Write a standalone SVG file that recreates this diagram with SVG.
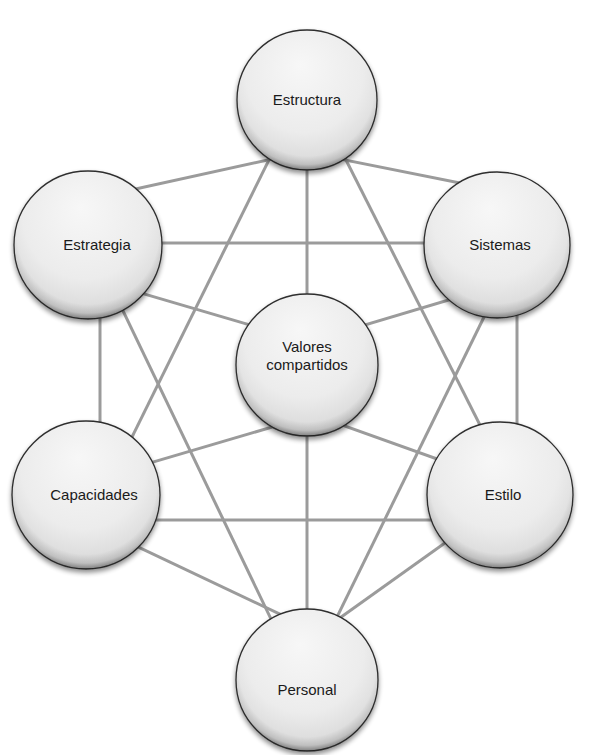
<svg xmlns="http://www.w3.org/2000/svg" width="596" height="755" viewBox="0 0 596 755">
  <style>
    .link { stroke: #9b9b9b; stroke-width: 3; fill: none; }
    .ball { fill: url(#ballFill); stroke: #2e2e2e; stroke-width: 1.3; filter: url(#soft); }
    .rim { fill: url(#rimShade); }
    .label { font-family: "Liberation Sans", Arial, sans-serif; font-size: 15px; fill: #1a1a1a; text-anchor: middle; }
  </style>
  <defs>
    <radialGradient id="ballFill" cx="0.5" cy="0.35" r="0.7" fx="0.45" fy="0.25">
      <stop offset="0" stop-color="#f7f7f7"/>
      <stop offset="0.6" stop-color="#ececec"/>
      <stop offset="1" stop-color="#d2d2d2"/>
    </radialGradient>
    <radialGradient id="rimShade" cx="0.5" cy="0.42" r="0.6">
      <stop offset="0.8" stop-color="#000" stop-opacity="0"/>
      <stop offset="0.9" stop-color="#000" stop-opacity="0.12"/>
      <stop offset="1" stop-color="#000" stop-opacity="0.55"/>
    </radialGradient>
    <filter id="soft" x="-20%" y="-20%" width="140%" height="150%">
      <feGaussianBlur in="SourceAlpha" stdDeviation="2.5"/>
      <feOffset dy="3" result="b"/>
      <feComponentTransfer><feFuncA type="linear" slope="0.45"/></feComponentTransfer>
      <feMerge><feMergeNode/><feMergeNode in="SourceGraphic"/></feMerge>
    </filter>
  </defs>

  <rect width="596" height="755" fill="#ffffff"/>

  <!-- connectors; each end is tucked under the node it meets -->
  <g id="connectors">
    <line class="link" x1="77.5" y1="201.8" x2="317.8" y2="149"/>
    <line class="link" x1="296.9" y1="150.4" x2="507.5" y2="192.5"/>
    <line class="link" x1="87" y1="243" x2="497" y2="243"/>
    <line class="link" x1="78.3" y1="274.6" x2="313.3" y2="343.5"/>
    <line class="link" x1="300.7" y1="344.1" x2="508.1" y2="282.3"/>
    <line class="link" x1="100" y1="245" x2="100" y2="495"/>
    <line class="link" x1="517" y1="245" x2="517" y2="495"/>
    <line class="link" x1="307" y1="100" x2="307" y2="365"/>
    <line class="link" x1="300.3" y1="96.6" x2="99.7" y2="502.3"/>
    <line class="link" x1="313.9" y1="96.5" x2="512.2" y2="488.8"/>
    <line class="link" x1="90.6" y1="243.3" x2="301.5" y2="682.6"/>
    <line class="link" x1="515" y1="253.8" x2="306.3" y2="679.7"/>
    <line class="link" x1="81.5" y1="483.1" x2="321" y2="412.6"/>
    <line class="link" x1="292" y1="407.2" x2="504.3" y2="483"/>
    <line class="link" x1="85" y1="520" x2="500" y2="520"/>
    <line class="link" x1="74.6" y1="516.9" x2="327.6" y2="636.7"/>
    <line class="link" x1="504.1" y1="500.7" x2="288.7" y2="654.5"/>
    <line class="link" x1="307" y1="365" x2="307" y2="680"/>
  </g>

  <g id="estructura">
    <circle class="ball" cx="307" cy="100" r="70"/>
    <circle class="rim" cx="307" cy="100" r="70"/>
    <text class="label" x="307" y="105">Estructura</text>
  </g>
  <g id="estrategia">
    <circle class="ball" cx="88" cy="245" r="74"/>
    <circle class="rim" cx="88" cy="245" r="74"/>
    <text class="label" x="97" y="250">Estrategia</text>
  </g>
  <g id="sistemas">
    <circle class="ball" cx="497" cy="245" r="73"/>
    <circle class="rim" cx="497" cy="245" r="73"/>
    <text class="label" x="500" y="250">Sistemas</text>
  </g>
  <g id="valores">
    <circle class="ball" cx="307" cy="365" r="71"/>
    <circle class="rim" cx="307" cy="365" r="71"/>
    <text class="label" x="307" y="352">Valores</text>
    <text class="label" x="307" y="370">compartidos</text>
  </g>
  <g id="capacidades">
    <circle class="ball" cx="86" cy="495" r="74"/>
    <circle class="rim" cx="86" cy="495" r="74"/>
    <text class="label" x="94" y="500">Capacidades</text>
  </g>
  <g id="estilo">
    <circle class="ball" cx="500" cy="495" r="73"/>
    <circle class="rim" cx="500" cy="495" r="73"/>
    <text class="label" x="503" y="500">Estilo</text>
  </g>
  <g id="personal">
    <circle class="ball" cx="307" cy="680" r="71"/>
    <circle class="rim" cx="307" cy="680" r="71"/>
    <text class="label" x="307" y="695">Personal</text>
  </g>
</svg>
